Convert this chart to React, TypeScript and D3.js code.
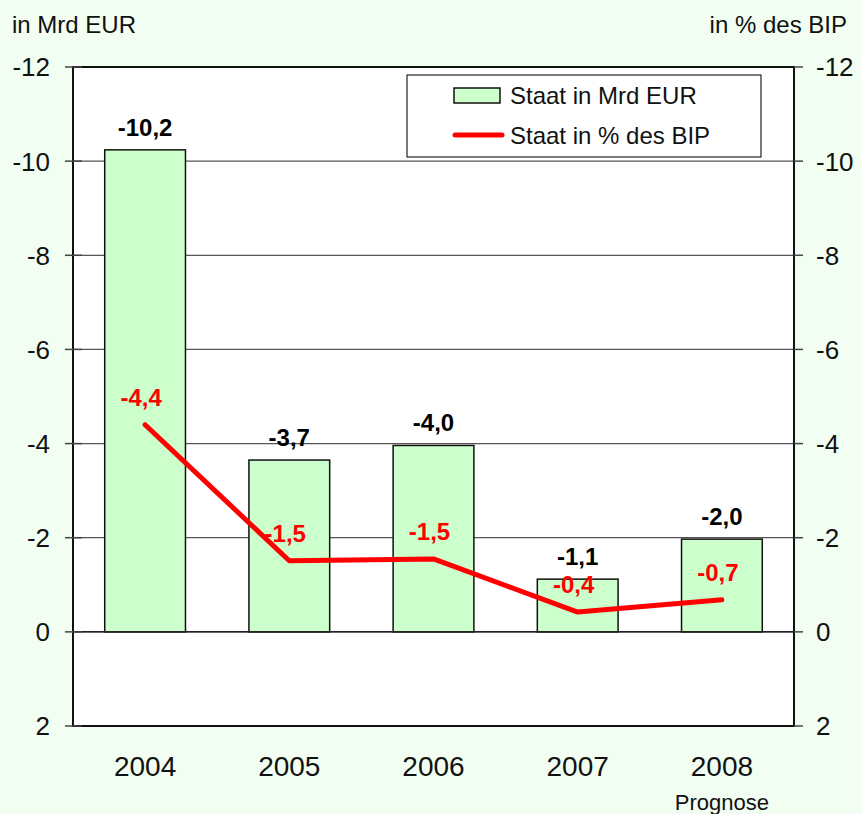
import React from "react";
import * as d3 from "d3";

const years = ["2004", "2005", "2006", "2007", "2008"];
const barValues = [-10.24, -3.65, -3.96, -1.12, -1.97];
const barLabels = ["-10,2", "-3,7", "-4,0", "-1,1", "-2,0"];
const lineValues = [-4.4, -1.51, -1.55, -0.42, -0.68];
const lineLabels = ["-4,4", "-1,5", "-1,5", "-0,4", "-0,7"];
const yTicks = [-12, -10, -8, -6, -4, -2, 0, 2];
const legendItems = ["Staat in Mrd EUR", "Staat in % des BIP"];

const W = 861;
const H = 814;
const M = { left: 73, right: 67, top: 67, bottom: 88 };
const FONT = "'Liberation Sans', Arial, Helvetica, sans-serif";

export default function App() {
  const x0 = M.left;
  const x1 = W - M.right;
  const y0 = M.top;
  const y1 = H - M.bottom;

  const x = d3.scaleBand<string>().domain(years).range([x0, x1]).paddingInner(0.44).paddingOuter(0.22);
  const xc = (d: string) => (x(d) as number) + x.bandwidth() / 2;
  const y = d3.scaleLinear().domain([-12, 2]).range([y0, y1]);

  const line = d3
    .line<number>()
    .x((_, i) => xc(years[i]))
    .y((v) => y(v));

  return (
    <svg width={W} height={H} style={{ position: "absolute", left: 0, top: 0 }} fontFamily={FONT}>
      <rect x={0} y={0} width={W} height={H} fill="#f1fef1" />
      <rect x={x0} y={y0} width={x1 - x0} height={y1 - y0} fill="#ffffff" />
      {/* gridlines */}
      {yTicks.map((t) => (
        <line key={"g" + t} x1={x0} x2={x1} y1={y(t)} y2={y(t)} stroke="#555" strokeWidth={1.2} />
      ))}
      {/* bars */}
      {years.map((yr, i) => {
        const v = barValues[i];
        const top = Math.min(y(v), y(0));
        const h = Math.abs(y(v) - y(0));
        return (
          <rect key={"b" + yr} x={x(yr)} y={top} width={x.bandwidth()} height={h} fill="#ccffcc" stroke="#111" strokeWidth={1.5} />
        );
      })}
      {/* zero line */}
      <line x1={x0} x2={x1} y1={y(0)} y2={y(0)} stroke="#222" strokeWidth={1.5} />
      {/* plot border */}
      <rect x={x0} y={y0} width={x1 - x0} height={y1 - y0} fill="none" stroke="#111" strokeWidth={2} />
      {/* ticks */}
      {yTicks.map((t) => (
        <g key={"t" + t}>
          <line x1={x0 - 8} x2={x0 + 9} y1={y(t)} y2={y(t)} stroke="#444" strokeWidth={1.5} />
          <line x1={x1} x2={x1 + 9} y1={y(t)} y2={y(t)} stroke="#444" strokeWidth={1.5} />
          <text x={x0 - 23} y={y(t)} dy="0.36em" textAnchor="end" fontSize={26} fill="#111">
            {t}
          </text>
          <text x={x1 + 22} y={y(t)} dy="0.36em" textAnchor="start" fontSize={26} fill="#111">
            {t}
          </text>
        </g>
      ))}
      {/* line */}
      <path d={line(lineValues) || ""} fill="none" stroke="#ff0000" strokeWidth={5} strokeLinejoin="round" strokeLinecap="round" />
      {/* bar labels */}
      {years.map((yr, i) => (
        <text key={"bl" + yr} x={xc(yr)} y={y(barValues[i]) - 14} textAnchor="middle" fontSize={24} fontWeight="bold" fill="#000">
          {barLabels[i]}
        </text>
      ))}
      {/* line labels */}
      {years.map((yr, i) => (
        <text key={"ll" + yr} x={xc(yr) - 4} y={y(lineValues[i]) - 19} textAnchor="middle" fontSize={24} fontWeight="bold" fill="#ff0000">
          {lineLabels[i]}
        </text>
      ))}
      {/* x labels */}
      {years.map((yr) => (
        <text key={"x" + yr} x={xc(yr)} y={776} textAnchor="middle" fontSize={28} fill="#111">
          {yr}
        </text>
      ))}
      <text x={xc("2008")} y={810} textAnchor="middle" fontSize={22} fill="#111">
        Prognose
      </text>
      {/* axis titles */}
      <text x={12} y={33} fontSize={24} fill="#111">
        in Mrd EUR
      </text>
      <text x={847} y={33} textAnchor="end" fontSize={24} fill="#111">
        in % des BIP
      </text>
      {/* legend */}
      <g>
        <rect x={407} y={75} width={354} height={82} fill="#ffffff" stroke="#222" strokeWidth={1.2} />
        <rect x={454} y={88} width={46} height={15} fill="#ccffcc" stroke="#111" strokeWidth={1.5} />
        <line x1={455} x2={502} y1={135} y2={135} stroke="#ff0000" strokeWidth={5} strokeLinecap="round" />
        <text x={510} y={104} fontSize={24} fill="#111">
          {legendItems[0]}
        </text>
        <text x={510} y={144} fontSize={24} fill="#111">
          {legendItems[1]}
        </text>
      </g>
    </svg>
  );
}
